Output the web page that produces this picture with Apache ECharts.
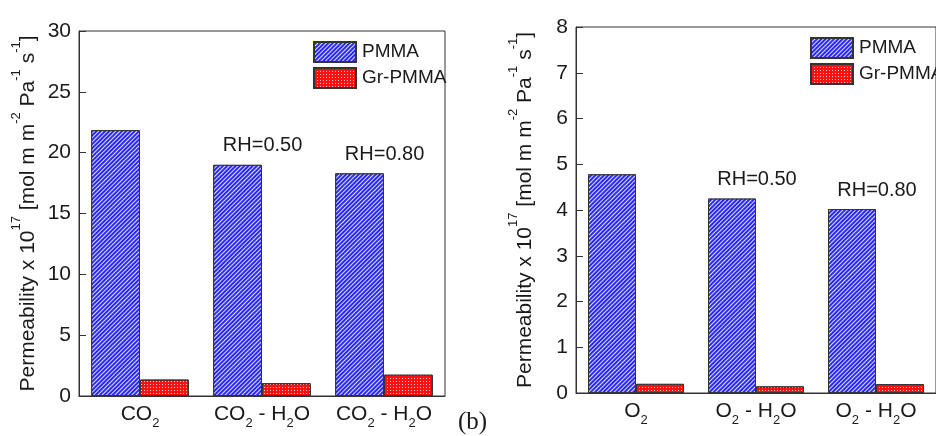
<!DOCTYPE html>
<html><head><meta charset="utf-8">
<script src="https://cdn.jsdelivr.net/npm/echarts@6/dist/echarts.min.js"></script>
<style>html,body{margin:0;padding:0;background:#fff}#c{width:936px;height:436px}</style>
</head><body><div id="c"></div>
<script>
const seriesNames = ['PMMA', 'Gr-PMMA'];
const co2Categories = ['{n|CO}{s|2}', '{n|CO}{s|2}{n| - H}{s|2}{n|O}', '{n|CO}{s|2}{n| - H}{s|2}{n|O}'];
const o2Categories = ['{n|O}{s|2}', '{n|O}{s|2}{n| - H}{s|2}{n|O}', '{n|O}{s|2}{n| - H}{s|2}{n|O}'];
const co2Pmma = [21.85, 19.0, 18.3];
const co2GrPmma = [1.35, 1.05, 1.75];
const o2Pmma = [4.78, 4.25, 4.02];
const o2GrPmma = [0.20, 0.145, 0.195];
const rhLabels = ['', 'RH=0.50', 'RH=0.80'];
const co2Ticks = {min: 0, max: 30, interval: 5};
const o2Ticks = {min: 0, max: 8, interval: 1};
const yTitle = '{n|Permeability x 10}{p|17}{n| [mol m m}{p|-2}{n| Pa}{p|-1}{n| s}{p|-1}{n|]}';

const FF = 'Liberation Sans, Arial, sans-serif';
const TXT = '#1a1a1a';
const AX = '#333';

const pmmaStyle = {
  color: '#2828ff', borderColor: AX, borderWidth: 1,
  decal: {symbol: 'rect', symbolSize: 1, dashArrayX: [1, 0], dashArrayY: [1, 2], rotation: -Math.PI / 4, color: 'rgba(255,255,255,0.85)'}
};
const grStyle = {
  color: '#ff1010', borderColor: AX, borderWidth: 1,
  decal: {symbol: 'rect', symbolSize: 1, dashArrayX: [1, 2], dashArrayY: [1, 2], rotation: 0, color: 'rgba(255,255,255,0.8)'}
};

function withRH(values) {
  return values.map((v, i) => rhLabels[i] ? {value: v, label: {show: true, formatter: rhLabels[i]}} : v);
}

function xAxis(gridIndex, cats) {
  return {
    type: 'category', gridIndex, data: cats,
    axisLine: {lineStyle: {color: AX, width: 1}},
    axisTick: {show: false},
    axisLabel: {
      interval: 0, margin: 8, color: TXT, fontFamily: FF,
      rich: {
        n: {fontSize: 21, lineHeight: 22, verticalAlign: 'top', fontFamily: FF, color: TXT},
        s: {fontSize: 13, lineHeight: 13, verticalAlign: 'top', padding: [13, 0, 0, 0], fontFamily: FF, color: TXT}
      }
    }
  };
}
function yAxis(gridIndex, t) {
  return {
    type: 'value', gridIndex, min: t.min, max: t.max, interval: t.interval,
    splitLine: {show: false},
    axisLine: {show: true, lineStyle: {color: AX, width: 1}},
    axisTick: {show: true, inside: true, length: 7, lineStyle: {color: AX}},
    axisLabel: {margin: 8, fontSize: 21, color: TXT, fontFamily: FF},
    name: yTitle, nameLocation: 'middle', nameRotate: 90, nameGap: 48, nameMoveOverlap: false,
    nameTextStyle: {
      color: TXT, fontFamily: FF,
      rich: {
        n: {fontSize: 21, lineHeight: 21, verticalAlign: 'top', padding: [8, 0, 0, 0], fontFamily: FF, color: TXT},
        p: {fontSize: 13, lineHeight: 13, verticalAlign: 'top', fontFamily: FF, color: TXT}
      }
    }
  };
}
const rhLabel = {show: false, position: 'top', distance: 9, offset: [25, 0], fontSize: 20, color: TXT, fontFamily: FF};
function legend(left, top) {
  return {
    data: seriesNames, orient: 'vertical', left, top, itemWidth: 42, itemHeight: 20, itemGap: 4,
    icon: 'rect', selectedMode: false,
    textStyle: {fontSize: 19, color: TXT, fontFamily: FF, padding: [0, 0, 0, 1]}
  };
}

const chart = echarts.init(document.getElementById('c'), null, {renderer: 'canvas'});
chart.setOption({
  animation: false,
  backgroundColor: '#fff',
  grid: [
    {left: 79, top: 31, width: 366, height: 365, show: true, borderColor: AX, borderWidth: 1, backgroundColor: 'transparent'},
    {left: 576, top: 27, width: 366, height: 366, show: true, borderColor: AX, borderWidth: 1, backgroundColor: 'transparent'}
  ],
  xAxis: [xAxis(0, co2Categories), xAxis(1, o2Categories)],
  yAxis: [yAxis(0, co2Ticks), yAxis(1, o2Ticks)],
  legend: [legend(308, 36), legend(805, 32)],
  series: [
    {name: seriesNames[0], type: 'bar', xAxisIndex: 0, yAxisIndex: 0, data: withRH(co2Pmma), barGap: '0%', barCategoryGap: '20%', itemStyle: pmmaStyle, label: rhLabel},
    {name: seriesNames[1], type: 'bar', xAxisIndex: 0, yAxisIndex: 0, data: co2GrPmma, barGap: '0%', barCategoryGap: '20%', itemStyle: grStyle},
    {name: seriesNames[0], type: 'bar', xAxisIndex: 1, yAxisIndex: 1, data: withRH(o2Pmma), barGap: '0%', barCategoryGap: '20%', itemStyle: pmmaStyle, label: rhLabel},
    {name: seriesNames[1], type: 'bar', xAxisIndex: 1, yAxisIndex: 1, data: o2GrPmma, barGap: '0%', barCategoryGap: '20%', itemStyle: grStyle}
  ],
  graphic: [
    {type: 'text', left: 458, top: 410, style: {text: '(b)', fontSize: 25, fontFamily: 'Liberation Serif, Times New Roman, serif', fill: TXT}}
  ]
});
</script></body></html>
